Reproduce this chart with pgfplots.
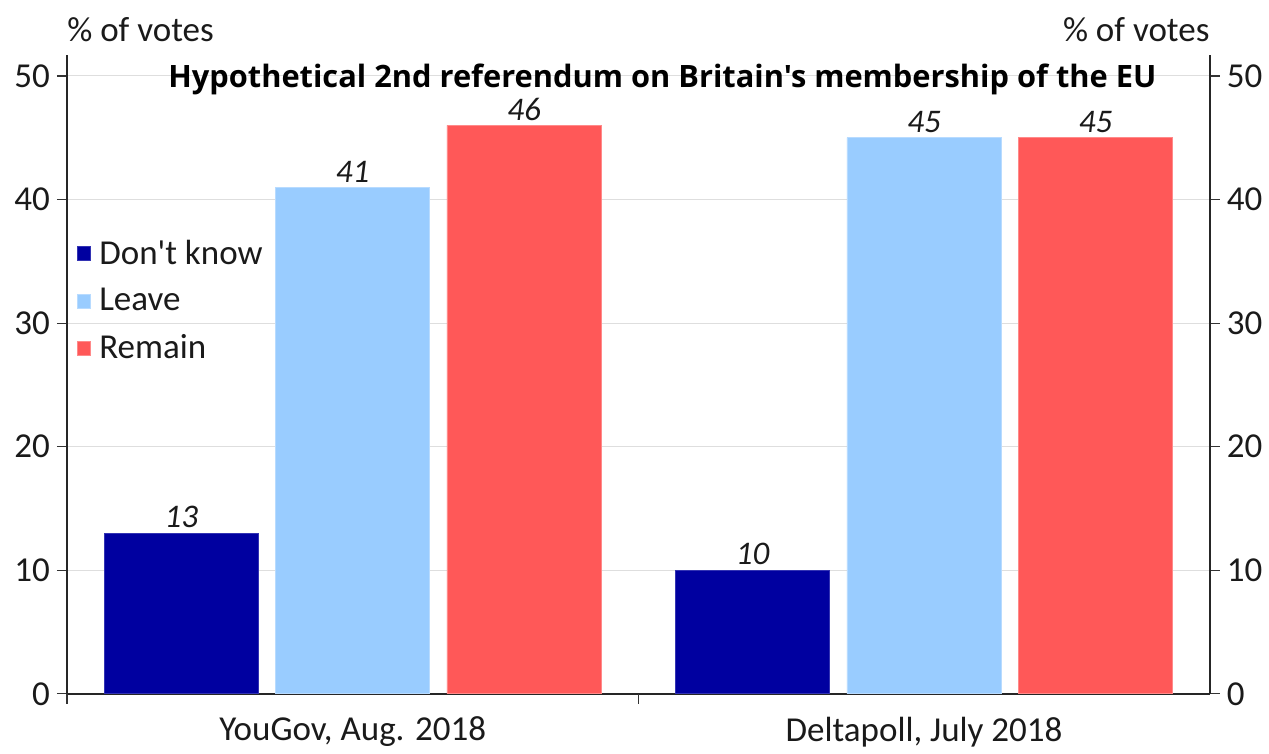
\documentclass[border=0pt]{standalone}
\usepackage{fontspec}
\setmainfont{Carlito}
\newfontfamily\titlefont{Open Sans}
\usepackage{pgfplots}
\pgfplotsset{compat=1.18}
\definecolor{dk}{HTML}{0000A0}
\definecolor{lb}{HTML}{99CCFF}
\definecolor{rd}{HTML}{FF5858}
\definecolor{txt}{HTML}{1A1A1A}
\pgfplotsset{
  common/.style={
    scale only axis, width=571.5pt, height=319.5pt,
    xmin=0, xmax=2, ymin=0, ymax=51.7,
    ytick={0,10,20,30,40,50},
    /pgf/number format/assume math mode=true,
    tick label style={font=\fontsize{17.5}{20}\selectfont, text=txt},
    y tick style={black!80, line width=0.6pt},
    tick align=outside,
    major tick length=5pt,
    axis line style={-, black!85, line width=0.8pt},
  }
}
\begin{document}
\begin{tikzpicture}
\begin{axis}[common,
  clip=false,
  axis x line*=bottom, axis y line*=left,
  ymajorgrids, grid style={black!13, line width=0.5pt},
  xtick={0.5,1.5},
  xticklabels={{YouGov, Aug. 2018},{Deltapoll, July 2018}},
  x tick style={draw=none},
  xticklabel style={yshift=-3pt},
  extra x ticks={0,1},
  extra x tick labels={},
  extra x tick style={x tick style={draw=black!80, line width=0.6pt}, grid=none},
  ybar, bar width=0.27, bar shift=0pt,
  nodes near coords,
  every node near coord/.append style={font=\fontsize{16.5}{18}\selectfont\itshape, text=txt, yshift=-1pt},
  legend style={draw=none, fill=none, at={(rel axis cs:0.008,0.717)}, anchor=north west,
    font=\fontsize{17.5}{20}\selectfont, text=txt, row sep=6.5pt, inner sep=0pt},
  legend cell align=left,
  legend image code/.code={\fill[#1] (0pt,-3.5pt) rectangle (7pt,3.5pt); \path (9pt,0pt);},
]
\addplot[fill=dk, draw=dk!80!white, line width=0.4pt] coordinates {(0.2,13) (1.2,10)};
\addplot[fill=lb, draw=lb!70!white, line width=0.4pt] coordinates {(0.5,41) (1.5,45)};
\addplot[fill=rd, draw=rd!70!white, line width=0.4pt] coordinates {(0.8,46) (1.8,45)};
\legend{Don\textquotesingle t know, Leave, Remain}
\node[font=\titlefont\bfseries\fontsize{15.4}{18}\selectfont, text=black] at (rel axis cs:0.521,0.962) {Hypothetical 2nd referendum on Britain's membership of the EU};
\node[anchor=south west, inner sep=0pt, font=\fontsize{17.5}{20}\selectfont, text=txt] at (rel axis cs:0,1.02) {\% of votes};
\node[anchor=south east, inner sep=0pt, font=\fontsize{17.5}{20}\selectfont, text=txt] at (rel axis cs:1,1.02) {\% of votes};
\path[draw=none] (rel axis cs:-0.0586,-0.0798) rectangle (rel axis cs:1.0516,1.086);
\end{axis}
\begin{axis}[common,
  axis y line*=right, axis x line=none,
]
\addplot[draw=none] coordinates {(0,0)};
\end{axis}
\end{tikzpicture}
\end{document}
